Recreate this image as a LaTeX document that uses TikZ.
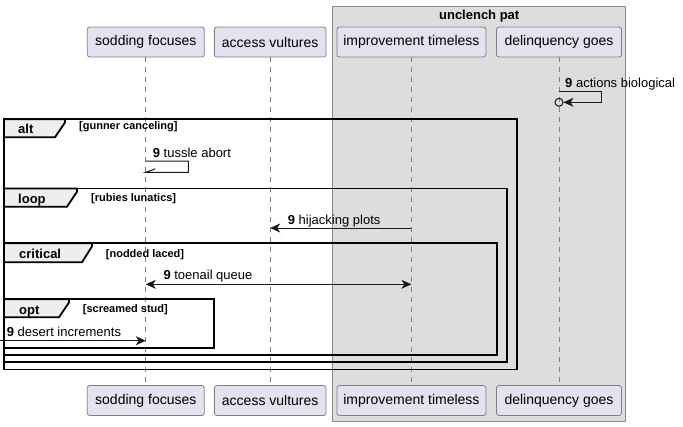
\documentclass[tikz,border=0pt]{standalone}
\usepackage{fontspec}
\setmainfont{Liberation Sans}
\usetikzlibrary{arrows.meta}
\definecolor{partfill}{HTML}{E2E2F0}
\definecolor{partline}{HTML}{808080}
\definecolor{grpfill}{HTML}{DDDDDD}
\definecolor{grpline}{HTML}{8A8A8A}
\definecolor{tabfill}{HTML}{EEEEEE}
\definecolor{lline}{HTML}{181818}
\begin{document}
\begin{tikzpicture}[x=1pt,y=-1pt,
 part/.style={draw=partline, fill=partfill, rounded corners=2.5pt, minimum height=30pt, inner sep=0pt, font=\fontsize{14}{16}\selectfont, line width=0.8pt},
 life/.style={draw=partline, dash pattern=on 5pt off 5pt, line width=0.8pt},
 frm/.style={draw=black, line width=1.8pt},
 tabs/.style={draw=black, fill=tabfill, line width=1.8pt, line join=miter},
 tablbl/.style={anchor=base west, inner sep=0pt, font=\bfseries\fontsize{13}{15}\selectfont},
 cond/.style={anchor=base west, inner sep=0pt, font=\bfseries\fontsize{11}{13}\selectfont},
 msglbl/.style={anchor=base west, inner sep=0pt, font=\fontsize{13}{15}\selectfont},
 msg/.style={draw=lline, line width=1pt},
 arrowend/.style={-{Stealth[length=10pt,width=9pt,inset=3pt]}},
 arrowboth/.style={{Stealth[length=10pt,width=9pt,inset=3pt]}-{Stealth[length=10pt,width=9pt,inset=3pt]}}
]
\useasboundingbox (0,0) rectangle (683,426);
% group box
\fill[grpfill] (332.7,6) rectangle (625.7,421.7);
\draw[grpline, line width=1pt] (332.7,6) rectangle (625.7,421.7);
\node[anchor=base, inner sep=0pt, font=\bfseries\fontsize{13}{15}\selectfont] (gtitle) at (479.2,19.5) {unclench pat};
% participants
\node[part, minimum width=117pt] (pA) at (145.8,42) {sodding focuses};
\node[part, minimum width=111.7pt] (pB) at (270.2,42) {access vultures};
\node[part, minimum width=149pt] (pC) at (411.4,42) {improvement timeless};
\node[part, minimum width=125pt] (pD) at (559,42) {delinquency goes};
\node[part, minimum width=117pt] (pAb) at (145.8,400.5) {sodding focuses};
\node[part, minimum width=111.7pt] (pBb) at (270.2,400.5) {access vultures};
\node[part, minimum width=149pt] (pCb) at (411.4,400.5) {improvement timeless};
\node[part, minimum width=125pt] (pDb) at (559,400.5) {delinquency goes};
% lifelines
\draw[life] (pA.south) -- (pAb.north);
\draw[life] (pB.south) -- (pBb.north);
\draw[life] (pC.south) -- (pCb.north);
\draw[life] (pD.south) -- (pDb.north);
% frames
\draw[frm] (4,119.3) rectangle (516.7,369.5);
\draw[frm] (4,188.5) rectangle (506.7,362.3);
\draw[frm] (4,243.2) rectangle (496.7,355);
\draw[frm] (4,299.3) rectangle (214.3,348);
% tabs
\draw[tabs] (4,119.3) -- (65,119.3) -- (65,122.5) -- (55,137.3) -- (4,137.3) -- cycle;
\draw[tabs] (4,188.5) -- (77,188.5) -- (77,191.7) -- (67,206.7) -- (4,206.7) -- cycle;
\draw[tabs] (4,243.2) -- (92,243.2) -- (92,246.4) -- (82,262.3) -- (4,262.3) -- cycle;
\draw[tabs] (4,299.3) -- (69,299.3) -- (69,302.5) -- (59,317.3) -- (4,317.3) -- cycle;
\node[tablbl] (talt) at (18,133.5) {alt};
\node[tablbl] (tloop) at (18,203.5) {loop};
\node[tablbl] (tcrit) at (19,258.5) {critical};
\node[tablbl] (topt) at (19,314.5) {opt};
\node[cond] (calt) at (79,129) {[gunner canceling]};
\node[cond] (cloop) at (91,201) {[rubies lunatics]};
\node[cond] (ccrit) at (105.7,257.3) {[nodded laced]};
\node[cond] (copt) at (82.7,312.3) {[screamed stud]};
% message: actions biological
\coordinate (dTop) at (pD.south |- 0,91);
\coordinate (dBot) at (pD.south |- 0,102.3);
\node[circle, draw=lline, line width=1pt, minimum size=8pt, inner sep=0pt] (dCirc) at (dBot) {};
\draw[msg, arrowend] (dTop) -- ++(42.5,0) |- (dCirc.east);
\node[msglbl] (l1) at (565,87) {\textbf{9} actions biological};
% message: tussle abort
\coordinate (aT) at (pA.south |- 0,161);
\coordinate (aB) at (pA.south |- 0,172.3);
\draw[msg] (aT) -- ++(42.5,0) |- (aB) -- ++(9.5,-3.5);
\node[msglbl] (l2) at (152.7,157) {\textbf{9} tussle abort};
% message: hijacking plots
\coordinate (hS) at (pC.south |- 0,228);
\coordinate (hE) at (pB.south |- 0,228);
\draw[msg, arrowend] (hS) -- (hE);
\node[msglbl] (l3) at (287.7,224) {\textbf{9} hijacking plots};
% message: toenail queue
\coordinate (tS) at (pA.south |- 0,284.3);
\coordinate (tE) at (pC.south |- 0,284.3);
\draw[msg, arrowboth] (tS) -- (tE);
\node[msglbl] (l4) at (163.3,279.5) {\textbf{9} toenail queue};
% message: desert increments
\coordinate (ext) at (0,340.7);
\coordinate (dE) at (pA.south |- 0,340.7);
\draw[msg, arrowend] (ext) -- (dE);
\node[msglbl] (l5) at (6.7,336) {\textbf{9} desert increments};
\end{tikzpicture}
\end{document}
